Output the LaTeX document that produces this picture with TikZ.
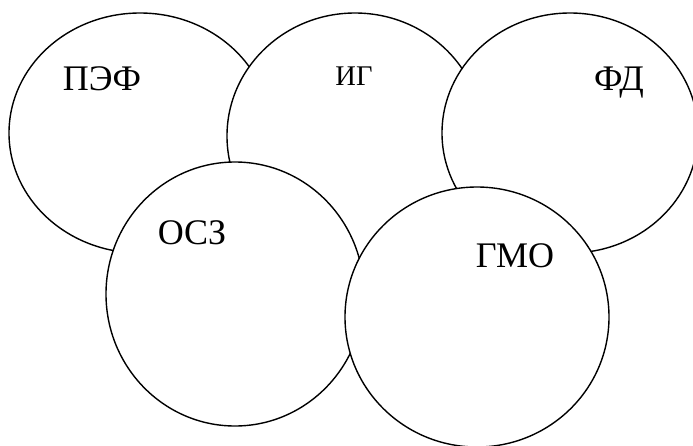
\documentclass[tikz,border=0pt]{standalone}
\usepackage{fontspec}
\setmainfont{Liberation Serif}
\begin{document}
\begin{tikzpicture}[x=1pt,y=-1pt,
  ring/.style={draw=black,fill=white,line width=1.4pt},
  lbl/.style={font=\fontsize{36}{40}\selectfont,inner sep=0pt,anchor=base},
  lblsmall/.style={font=\fontsize{28.5}{32}\selectfont,inner sep=0pt,anchor=base}]
\useasboundingbox (0,0) rectangle (693,445);
\clip (0,0) rectangle (693,445);
\fill[white] (0,0) rectangle (693,445);
\draw[ring] (140,133) ellipse [x radius=131, y radius=120];
\draw[ring] (355,136) ellipse [x radius=128, y radius=123];
\draw[ring] (570,133) ellipse [x radius=128, y radius=120];
\draw[ring] (235,294) ellipse [x radius=129, y radius=132];
\draw[ring] (477,317) ellipse [x radius=132, y radius=130];
\node[lbl] (pef) at (102,90) {ПЭФ};
\node[lblsmall] (ig) at (354,85) {ИГ};
\node[lbl] (fd) at (619,90) {ФД};
\node[lbl] (osz) at (192,244) {ОСЗ};
\node[lbl] (gmo) at (515,267) {ГМО};
\end{tikzpicture}
\end{document}
